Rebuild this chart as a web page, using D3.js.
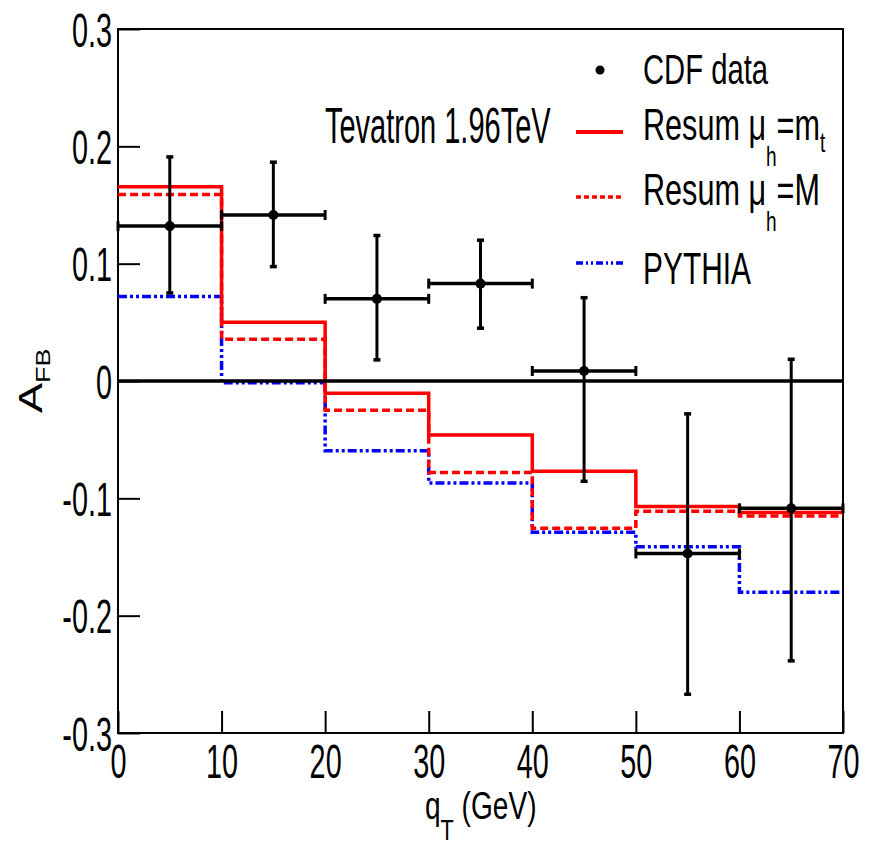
<!DOCTYPE html>
<html>
<head>
<meta charset="utf-8">
<script src="https://cdn.jsdelivr.net/npm/d3@7"></script>
<style>
  body { margin: 0; background: #fff; }
  text { font-family: "Liberation Sans", Arial, sans-serif; fill: #000; }
</style>
</head>
<body>
<script>
// bin edges and values
const binEdges = [0, 10, 20, 30, 40, 50, 60, 70];
const qtCenter = [5, 15, 25, 35, 45, 55, 65];
const cdfVal = [0.132, 0.1415, 0.070, 0.083, 0.0085, -0.147, -0.1085];
const cdfErrUp = [0.059, 0.045, 0.054, 0.037, 0.0625, 0.119, 0.127];
const cdfErrDown = [0.057, 0.044, 0.052, 0.038, 0.094, 0.120, 0.130];
const resumMt = [0.1655, 0.050, -0.0105, -0.046, -0.077, -0.107, -0.112];
const resumM = [0.159, 0.0355, -0.025, -0.078, -0.1255, -0.111, -0.115];
const pythia = [0.072, -0.0015, -0.0595, -0.087, -0.129, -0.1412, -0.180];

const xMajor = [0, 10, 20, 30, 40, 50, 60, 70];
const xTickLabels = ["0", "10", "20", "30", "40", "50", "60", "70"];
const yMajor = [-0.3, -0.2, -0.1, 0, 0.1, 0.2, 0.3];
const yTickLabels = ["-0.3", "-0.2", "-0.1", "0", "0.1", "0.2", "0.3"];

const width = 871, height = 847;
const margin = { top: 29, right: 28, bottom: 114, left: 118 };

const svg = d3.select("body").append("svg")
  .attr("width", width)
  .attr("height", height);

const x = d3.scaleLinear().domain([0, 70]).range([margin.left, width - margin.right]);
const y = d3.scaleLinear().domain([-0.3, 0.3]).range([height - margin.bottom, margin.top]);

// text squeezed sideways like the original
function label(g, px, py, str, size, sx, anchor) {
  return g.append("text")
    .attr("transform", `translate(${px},${py}) scale(${sx},1)`)
    .attr("font-size", size)
    .attr("text-anchor", anchor || "start")
    .text(str);
}

// axes
const xMinor = d3.range(0, 70.01, 2);
const yMinor = d3.range(-0.3, 0.301, 0.02);

const gx = svg.append("g").attr("transform", `translate(0,${y(-0.3)})`);
gx.call(d3.axisBottom(x).tickValues(xMinor).tickSize(-11).tickSizeOuter(0).tickFormat(""));
gx.call(d3.axisBottom(x).tickValues(xMajor).tickSize(-22).tickSizeOuter(0).tickFormat((d, i) => xTickLabels[i]));
gx.selectAll("line").attr("stroke-width", 2);
gx.selectAll(".domain").remove();
gx.selectAll("text").each(function () {
  d3.select(this)
    .attr("y", null).attr("dy", null)
    .attr("transform", "translate(0,45) scale(0.6,1)")
    .attr("font-size", 48)
    .attr("font-family", null);
});

const gy = svg.append("g").attr("transform", `translate(${x(0)},0)`);
gy.call(d3.axisLeft(y).tickValues(yMinor).tickSize(-11).tickSizeOuter(0).tickFormat(""));
gy.call(d3.axisLeft(y).tickValues(yMajor).tickSize(-22).tickSizeOuter(0).tickFormat((d, i) => yTickLabels[i]));
gy.selectAll("line").attr("stroke-width", 2);
gy.selectAll(".domain").remove();
gy.selectAll("text").each(function () {
  d3.select(this)
    .attr("x", null).attr("dy", null)
    .attr("transform", "translate(-6,17) scale(0.6,1)")
    .attr("font-size", 48)
    .attr("font-family", null);
});

// frame
svg.append("rect")
  .attr("x", x(0)).attr("y", y(0.3))
  .attr("width", x(70) - x(0)).attr("height", y(-0.3) - y(0.3))
  .attr("fill", "none").attr("stroke", "#000").attr("stroke-width", 2);

// step histograms
const step = d3.line()
  .x(d => x(d[0]))
  .y(d => y(d[1]))
  .curve(d3.curveStepAfter);

function hist(vals) {
  const pts = vals.map((v, i) => [binEdges[i], v]);
  pts.push([binEdges[binEdges.length - 1], vals[vals.length - 1]]);
  return pts;
}

svg.append("path").attr("d", step(hist(pythia)))
  .attr("fill", "none").attr("stroke", "#0000ff").attr("stroke-width", 3.5)
  .attr("stroke-dasharray", "9,3,3,3,3,3");
svg.append("path").attr("d", step(hist(resumM)))
  .attr("fill", "none").attr("stroke", "#ff0000").attr("stroke-width", 3.5)
  .attr("stroke-dasharray", "8,4");
svg.append("path").attr("d", step(hist(resumMt)))
  .attr("fill", "none").attr("stroke", "#ff0000").attr("stroke-width", 3.5);

// zero line
svg.append("line")
  .attr("x1", x(0)).attr("x2", x(70))
  .attr("y1", y(0)).attr("y2", y(0))
  .attr("stroke", "#000").attr("stroke-width", 3.5);

// CDF data with error bars
const pts = svg.append("g").attr("stroke", "#000");
qtCenter.forEach((q, i) => {
  const cy = y(cdfVal[i]);
  const top = y(cdfVal[i] + cdfErrUp[i]);
  const bot = y(cdfVal[i] - cdfErrDown[i]);
  const xl = x(q - 5), xr = x(q + 5), cx = x(q);
  pts.append("line").attr("x1", xl).attr("x2", xr).attr("y1", cy).attr("y2", cy).attr("stroke-width", 3.5);
  pts.append("line").attr("x1", cx).attr("x2", cx).attr("y1", top).attr("y2", bot).attr("stroke-width", 3);
  [xl, xr].forEach(xx => pts.append("line").attr("x1", xx).attr("x2", xx)
    .attr("y1", cy - 5).attr("y2", cy + 5).attr("stroke-width", 3));
  [top, bot].forEach(yy => pts.append("line").attr("x1", cx - 3.5).attr("x2", cx + 3.5)
    .attr("y1", yy).attr("y2", yy).attr("stroke-width", 3.5));
  pts.append("circle").attr("cx", cx).attr("cy", cy).attr("r", 5).attr("fill", "#000").attr("stroke", "none");
});

// legend
const lg = svg.append("g");
lg.append("circle").attr("cx", 600).attr("cy", 70).attr("r", 4.5).attr("fill", "#000");
lg.append("line").attr("x1", 576).attr("x2", 623).attr("y1", 132).attr("y2", 132)
  .attr("stroke", "#ff0000").attr("stroke-width", 4);
lg.append("line").attr("x1", 576).attr("x2", 623).attr("y1", 197).attr("y2", 197)
  .attr("stroke", "#ff0000").attr("stroke-width", 3.5).attr("stroke-dasharray", "5,3");
lg.append("line").attr("x1", 576).attr("x2", 623).attr("y1", 263).attr("y2", 263)
  .attr("stroke", "#0000ff").attr("stroke-width", 3.5).attr("stroke-dasharray", "7,3,2,3,2,3");

label(lg, 643, 84, "CDF data", 43, 0.68);

const t1 = label(lg, 643, 140, "Resum μ", 45, 0.68);
t1.append("tspan").attr("font-size", 28).attr("dy", 26).text("h");
t1.append("tspan").attr("dy", -26).text("=m");
t1.append("tspan").attr("font-size", 28).attr("dy", 12).text("t");

const t2 = label(lg, 643, 205, "Resum μ", 45, 0.68);
t2.append("tspan").attr("font-size", 28).attr("dy", 26).text("h");
t2.append("tspan").attr("dy", -26).text("=M");

label(lg, 643, 284, "PYTHIA", 44, 0.68);

label(svg, 325, 143, "Tevatron 1.96TeV", 50, 0.58);

// axis titles
const xt = svg.append("text")
  .attr("transform", `translate(425,819) scale(0.72,1)`)
  .attr("font-size", 39);
xt.append("tspan").text("q");
xt.append("tspan").attr("font-size", 30).attr("dy", 21).text("T");
xt.append("tspan").attr("dy", -21).text(" (GeV)");

const yt = svg.append("text")
  .attr("transform", `translate(42,413) scale(0.72,1) rotate(-90)`)
  .attr("font-size", 45);
yt.append("tspan").text("A");
yt.append("tspan").attr("font-size", 27).attr("dy", 11).text("FB");
</script>
</body>
</html>
